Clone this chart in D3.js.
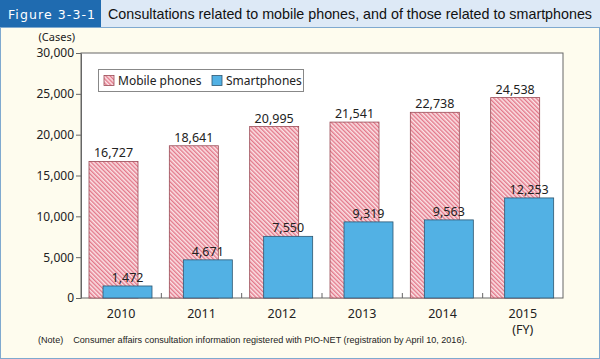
<!DOCTYPE html>
<html>
<head>
<meta charset="utf-8">
<script src="https://cdn.jsdelivr.net/npm/d3@7"></script>
<style>
  body { margin: 0; background: #fff; }
  svg { display: block; }
</style>
</head>
<body>
<div id="chart"></div>
<script>
// data
var years = ["2010", "2011", "2012", "2013", "2014", "2015"];
var mobilePhones = [16727, 18641, 20995, 21541, 22738, 24538];
var smartphones = [1472, 4671, 7550, 9319, 9563, 12253];
var yTicks = [0, 5000, 10000, 15000, 20000, 25000, 30000];
var seriesNames = ["Mobile phones", "Smartphones"];

var width = 600, height = 359;
var font = "'Noto Sans', 'DejaVu Sans', sans-serif";
var plot = { left: 81, right: 563, top: 53, bottom: 298 };

var svg = d3.select("#chart").append("svg")
    .attr("width", width)
    .attr("height", height);

var defs = svg.append("defs");
var pat = defs.append("pattern")
    .attr("id", "hatch")
    .attr("patternUnits", "userSpaceOnUse")
    .attr("width", 3)
    .attr("height", 3)
    .attr("patternTransform", "rotate(-45)");
pat.append("rect").attr("width", 3).attr("height", 3).attr("fill", "#fbe3e6");
pat.append("rect").attr("width", 1.4).attr("height", 3).attr("fill", "#e3788a");

// frame background
svg.append("rect")
    .attr("x", 0.5).attr("y", 0.5)
    .attr("width", width - 1).attr("height", height - 1)
    .attr("fill", "#fefcee")
    .attr("stroke", "#7fa9cf");

// title bar
svg.append("rect")
    .attr("x", 0).attr("y", 0).attr("width", width).attr("height", 27)
    .attr("fill", "#dde9f6");
svg.append("line")
    .attr("x1", 0).attr("x2", width).attr("y1", 27.5).attr("y2", 27.5)
    .attr("stroke", "#7fa9cf");
svg.append("rect")
    .attr("x", 0).attr("y", 0).attr("width", 101).attr("height", 27)
    .attr("fill", "#1f6bb0");
svg.append("text")
    .attr("x", 8).attr("y", 19)
    .attr("fill", "#fff")
    .attr("textLength", 87)
    .attr("lengthAdjust", "spacing")
    .style("font-family", "'DejaVu Sans', sans-serif")
    .style("font-size", "12.5px")
    .text("Figure 3-3-1");
svg.append("text")
    .attr("x", 108).attr("y", 19)
    .attr("fill", "#111")
    .style("font-family", "'Liberation Sans', Arial, sans-serif")
    .style("font-size", "14.3px")
    .text("Consultations related to mobile phones, and of those related to smartphones");

// scales
var x = d3.scaleBand().domain(years).range([plot.left, plot.right]).padding(0);
var y = d3.scaleLinear().domain([0, 30000]).range([plot.bottom, plot.top]);

// plot area
svg.append("rect")
    .attr("x", plot.left).attr("y", plot.top)
    .attr("width", plot.right - plot.left).attr("height", plot.bottom - plot.top)
    .attr("fill", "#fff")
    .attr("stroke", "#666")
    .attr("stroke-width", 1);

// y axis
var yAxis = svg.append("g")
    .attr("transform", "translate(" + plot.left + ",0)")
    .call(d3.axisLeft(y).tickValues(yTicks).tickSize(5).tickSizeOuter(0).tickFormat(d3.format(",")));
yAxis.select(".domain").attr("stroke", "#666");
yAxis.selectAll(".tick line").attr("stroke", "#666");
yAxis.selectAll(".tick text")
    .attr("x", -7)
    .attr("fill", "#222")
    .style("font-family", font)
    .style("font-size", "12px");

svg.append("text")
    .attr("x", 75).attr("y", 41)
    .attr("text-anchor", "end")
    .attr("fill", "#222")
    .style("font-family", font)
    .style("font-size", "11px")
    .text("(Cases)");

// x ticks between categories (inside, upward)
var bounds = years.slice(1).map(function (d) { return x(d); });
svg.selectAll(".xtick").data(bounds).enter().append("line")
    .attr("x1", function (d) { return d; })
    .attr("x2", function (d) { return d; })
    .attr("y1", plot.bottom)
    .attr("y2", plot.bottom - 5)
    .attr("stroke", "#666");

var bw = 49;

// mobile phone bars
svg.selectAll(".mobile").data(mobilePhones).enter().append("rect")
    .attr("x", function (d, i) { return x(years[i]) + 8; })
    .attr("y", function (d) { return y(d); })
    .attr("width", bw)
    .attr("height", function (d) { return y(0) - y(d); })
    .attr("fill", "url(#hatch)")
    .attr("stroke", "#9a4a55")
    .attr("stroke-width", 0.8);

svg.selectAll(".mobileLabel").data(mobilePhones).enter().append("text")
    .attr("x", function (d, i) { return x(years[i]) + 8 + bw / 2; })
    .attr("y", function (d) { return y(d) - 4; })
    .attr("text-anchor", "middle")
    .attr("fill", "#222")
    .style("font-family", font)
    .style("font-size", "12.5px")
    .text(d3.format(","));

// smartphone bars
svg.selectAll(".smart").data(smartphones).enter().append("rect")
    .attr("x", function (d, i) { return x(years[i]) + 22; })
    .attr("y", function (d) { return y(d); })
    .attr("width", bw)
    .attr("height", function (d) { return y(0) - y(d); })
    .attr("fill", "#52b1e4")
    .attr("stroke", "#2d5670")
    .attr("stroke-width", 0.8);

svg.selectAll(".smartLabel").data(smartphones).enter().append("text")
    .attr("x", function (d, i) { return x(years[i]) + 22 + bw / 2; })
    .attr("y", function (d) { return y(d) - 4; })
    .attr("text-anchor", "middle")
    .attr("fill", "#222")
    .style("font-family", font)
    .style("font-size", "12.5px")
    .text(d3.format(","));

// x labels
svg.selectAll(".xlabel").data(years).enter().append("text")
    .attr("x", function (d) { return x(d) + x.bandwidth() / 2; })
    .attr("y", 318)
    .attr("text-anchor", "middle")
    .attr("fill", "#222")
    .style("font-family", font)
    .style("font-size", "12.5px")
    .text(function (d) { return d; });
svg.append("text")
    .attr("x", x("2015") + x.bandwidth() / 2)
    .attr("y", 334)
    .attr("text-anchor", "middle")
    .attr("fill", "#222")
    .style("font-family", font)
    .style("font-size", "12.5px")
    .text("(FY)");

// legend
var lg = svg.append("g").attr("transform", "translate(98,69)");
lg.append("rect")
    .attr("x", 0.5).attr("y", 0.5).attr("width", 205).attr("height", 22)
    .attr("fill", "#fff").attr("stroke", "#888");
lg.append("rect")
    .attr("x", 6).attr("y", 6.5).attr("width", 10).attr("height", 10)
    .attr("fill", "url(#hatch)").attr("stroke", "#9a4a55").attr("stroke-width", 0.8);
lg.append("text")
    .attr("x", 20).attr("y", 16)
    .attr("fill", "#222")
    .style("font-family", font).style("font-size", "12px")
    .text(seriesNames[0]);
lg.append("rect")
    .attr("x", 114).attr("y", 6.5).attr("width", 10).attr("height", 10)
    .attr("fill", "#52b1e4").attr("stroke", "#2d5670").attr("stroke-width", 0.8);
lg.append("text")
    .attr("x", 128).attr("y", 16)
    .attr("fill", "#222")
    .style("font-family", font).style("font-size", "12px")
    .text(seriesNames[1]);

// note
svg.append("text")
    .attr("x", 38).attr("y", 343)
    .attr("fill", "#222")
    .attr("textLength", 429)
    .attr("lengthAdjust", "spacingAndGlyphs")
    .style("white-space", "pre")
    .style("font-family", "'Liberation Sans', Arial, sans-serif")
    .style("font-size", "8.6px")
    .text("(Note)    Consumer affairs consultation information registered with PIO-NET (registration by April 10, 2016).");
</script>
</body>
</html>
